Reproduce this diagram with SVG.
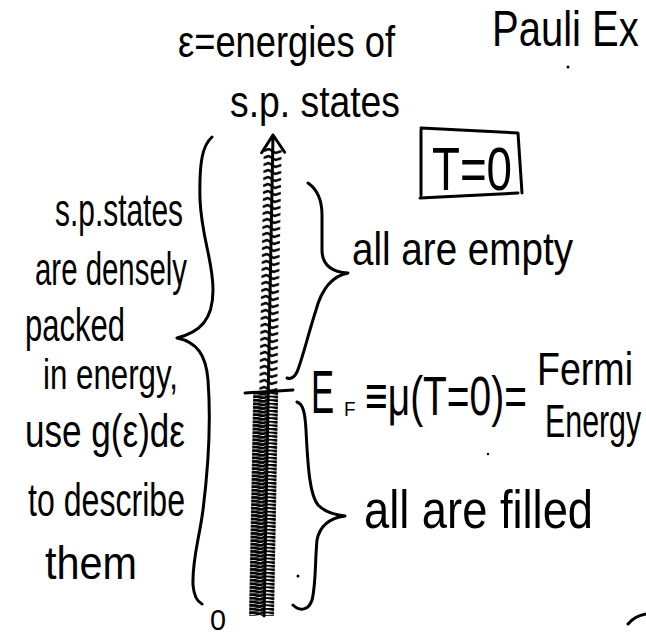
<svg xmlns="http://www.w3.org/2000/svg" width="646" height="637" viewBox="0 0 646 637">
<style>
.hw{font-family:"Liberation Sans","DejaVu Sans",sans-serif;fill:#000}
.ln{fill:none;stroke:#000;stroke-width:3;stroke-linecap:round;stroke-linejoin:round}
</style>
<defs>
<pattern id="hatchUp" patternUnits="userSpaceOnUse" x="264" y="148" width="18" height="7">
<path d="M0,3 L5,1 L12,5 L18,3" fill="none" stroke="#000" stroke-width="2.5"/>
</pattern>
<pattern id="hatchDn" patternUnits="userSpaceOnUse" x="258" y="392" width="25" height="3.6">
<path d="M0,1.8 C6,-0.4 9,4 12.5,1.8 S19,-0.4 25,1.8" fill="none" stroke="#000" stroke-width="2.9"/>
</pattern>
</defs>
<rect width="646" height="637" fill="#fff"/>

<g id="title">
<text class="hw" transform="translate(492,46) scale(0.8,1)" font-size="50">Pauli Ex</text>
<circle cx="568" cy="67" r="1.5" fill="#000"/>
</g>

<g id="axis-label">
<text class="hw" x="178" y="57" font-size="44" textLength="217" lengthAdjust="spacingAndGlyphs">ε=energies of</text>
<text class="hw" x="230" y="117" font-size="44" textLength="170" lengthAdjust="spacingAndGlyphs">s.p. states</text>
</g>

<g id="temperature">
<path class="ln" d="M421,128 L518,133 L522,193 M420,198 L518,193 M421,130 L421,195"/>
<text class="hw" x="432" y="190" font-size="62" textLength="80" lengthAdjust="spacingAndGlyphs">T=0</text>
</g>

<g id="axis">
<g transform="rotate(1.07 273 135)">
<rect x="264" y="148" width="18" height="242" fill="url(#hatchUp)"/>
<rect x="258" y="392" width="25" height="224" fill="url(#hatchDn)"/>
<path class="ln" d="M273,135 L273,616 M262,153 L273,135 L285,152"/>
</g>
<path class="ln" d="M245,393 L293,390"/>
<text class="hw" x="210" y="630" font-size="30" textLength="16" lengthAdjust="spacingAndGlyphs">0</text>
</g>

<g id="connectors">
<path class="ln" d="M212,137 C203,145 199,160 200,200 C202,240 213,260 213,290 C213,320 200,332 177,338 C197,342 206,355 208,380 C211,420 208,470 203,510 C199,540 192,560 193,585 C194,597 198,602 202,604"/>
<path class="ln" d="M308,183 C318,190 322,200 322,215 L322,250 C322,265 332,272 348,273 C332,276 322,288 316,310 C308,335 302,360 297,372 C294,378 290,379 287,378"/>
<path class="ln" d="M297,402 C303,404 305,412 306,430 C308,470 310,495 318,505 C325,512 335,515 345,516 C330,518 320,525 317,540 C315,560 316,585 312,600 C309,610 300,612 293,605"/>
<path class="ln" d="M628,624 C633,618 640,615 646,614" stroke-width="2"/>
</g>

<g id="left-note">
<text class="hw" x="55" y="226" font-size="46" textLength="128" lengthAdjust="spacingAndGlyphs">s.p.states</text>
<text class="hw" x="35" y="285" font-size="46" textLength="152" lengthAdjust="spacingAndGlyphs">are densely</text>
<text class="hw" x="25" y="341" font-size="46" textLength="100" lengthAdjust="spacingAndGlyphs">packed</text>
<text class="hw" x="43" y="389" font-size="42" textLength="135" lengthAdjust="spacingAndGlyphs">in energy,</text>
<text class="hw" x="25" y="447" font-size="46" textLength="160" lengthAdjust="spacingAndGlyphs">use g(ε)dε</text>
<text class="hw" x="28" y="516" font-size="46" textLength="157" lengthAdjust="spacingAndGlyphs">to describe</text>
<text class="hw" x="45" y="579" font-size="46" textLength="92" lengthAdjust="spacingAndGlyphs">them</text>
</g>

<g id="empty">
<text class="hw" x="352" y="265" font-size="46" textLength="221" lengthAdjust="spacingAndGlyphs">all are empty</text>
</g>

<g id="fermi">
<text class="hw" transform="translate(311,413) scale(0.56,1)" font-size="62">E</text>
<text class="hw" transform="translate(344,416) scale(0.95,1)" font-size="20">F</text>
<text class="hw" transform="translate(365,415) scale(0.695,1)" font-size="56">≡μ(T=0)=</text>
<text class="hw" transform="translate(537,385) scale(0.817,1)" font-size="46">Fermi</text>
<text class="hw" transform="translate(545,437) scale(0.66,1)" font-size="46">Energy</text>
</g>

<g id="filled">
<text class="hw" x="364" y="528" font-size="54" textLength="229" lengthAdjust="spacingAndGlyphs">all are filled</text>
<circle cx="488" cy="454" r="1.2" fill="#000"/>
<circle cx="298" cy="576" r="1.5" fill="#000"/>
</g>
</svg>
